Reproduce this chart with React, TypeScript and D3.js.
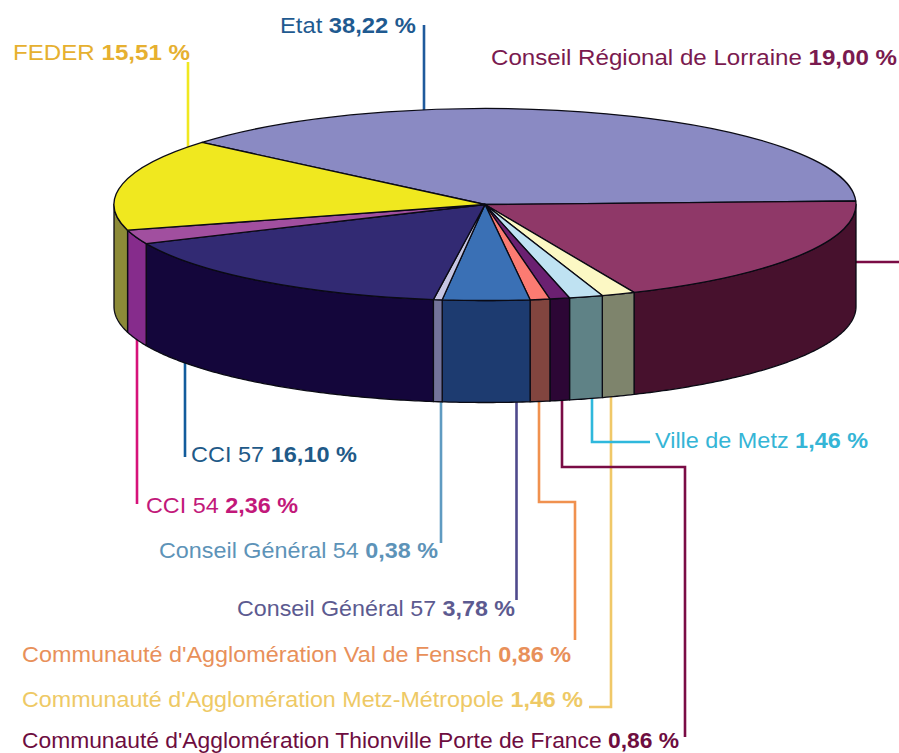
import * as d3 from "d3";

const width = 899;
const height = 753;

// clockwise from the top left edge of the Etat slice
const names = [
  "Etat",
  "Conseil Régional de Lorraine",
  "Communauté d'Agglomération Metz-Métropole",
  "Ville de Metz",
  "Communauté d'Agglomération Thionville Porte de France",
  "Communauté d'Agglomération Val de Fensch",
  "Conseil Général 57",
  "Conseil Général 54",
  "CCI 57",
  "CCI 54",
  "FEDER",
];
const values = [38.22, 19.0, 1.46, 1.46, 0.86, 0.86, 3.78, 0.38, 16.1, 2.36, 15.51];
const topColors = ["#8a8ac3", "#8f3868", "#fcf8c4", "#bfe2f2", "#6b2071", "#fb7b72", "#3a70b5", "#c6c6e2", "#322a73", "#a14f9f", "#f0e81f"];
const sideColors = ["#55557a", "#47112d", "#7e846c", "#5f8286", "#2c0635", "#82453f", "#1d3b70", "#73739a", "#14063b", "#862c8c", "#8c8a38"];
const textColors = ["#1f5a90", "#7a1a4f", "#eec965", "#35b5d6", "#6d0d3f", "#e8905a", "#5c5a90", "#5d93b8", "#1f5a88", "#c2187a", "#e6b030"];
const lineColors = ["#1f5a9c", "#7a0c45", "#f0c868", "#2fb8dc", "#7a0c45", "#f0914f", "#4f4a8c", "#5f9bc1", "#125c9c", "#d6127a", "#f0e820"];

// label anchors, widths and leader routes, same order as names
const labelPos: [number, number][] = [
  [280, 33], [491, 65], [22, 707], [655, 448], [22, 747.5], [22, 662],
  [237, 616], [159, 558], [191, 462], [146, 513], [13, 59.5],
];
const labelWidth = [136, 406, 561, 213, 657, 549, 278, 279, 166, 152, 177];
const leaders: [number, number][][] = [
  [[424, 25], [424, 120]],
  [[850, 262], [899, 262]],
  [[611, 390], [611, 707], [589, 707]],
  [[592, 390], [592, 442], [650, 442]],
  [[562, 395], [562, 467], [685, 467], [685, 737]],
  [[539, 395], [539, 502], [575, 502], [575, 640]],
  [[516.5, 395], [516.5, 600]],
  [[441, 395], [441, 543]],
  [[185, 350], [185, 457]],
  [[137, 335], [137, 504]],
  [[188, 62], [188, 160]],
];

const cx = 485;
const cy = 204.5;
const rx = 371;
const ry = 96;
const depth = 102;
const startDeg = -49.7;

const pie = d3
  .pie<number>()
  .sort(null)
  .startAngle((startDeg * Math.PI) / 180)
  .endAngle(((startDeg + 360) * Math.PI) / 180);

const arc = d3.arc<d3.PieArcDatum<number>>().innerRadius(0).outerRadius(rx);

const xAt = (a: number) => cx + rx * Math.sin(a);
const yAt = (a: number) => cy - ry * Math.cos(a);

// front wall of a slice, only the part on the lower half of the ellipse
function wallPath(a0: number, a1: number) {
  const from = Math.max(a0, Math.PI / 2);
  const to = Math.min(a1, (3 * Math.PI) / 2);
  if (to <= from) return null;
  const angles = [...d3.range(from, to, 0.01), to];
  const pts: [number, number][] = [
    ...angles.map((a): [number, number] => [xAt(a), yAt(a)]),
    ...angles.slice().reverse().map((a): [number, number] => [xAt(a), yAt(a) + depth]),
  ];
  return d3.line()(pts) + "Z";
}

const fmt = (v: number) => v.toFixed(2).replace(".", ",") + " %";

export default function App() {
  const slices = pie(values);
  const leaderLine = d3.line();

  return (
    <svg
      width={width}
      height={height}
      style={{ position: "absolute", left: 0, top: 0, background: "#fff" }}
      fontFamily="'Liberation Sans', Arial, sans-serif"
    >
      {leaders.map((pts, i) => (
        <path key={i} d={leaderLine(pts) ?? ""} fill="none" stroke={lineColors[i]} strokeWidth={2.6} />
      ))}

      <g stroke="#0a0a14" strokeWidth={1.3} strokeLinejoin="round">
        {slices.map((s, i) => {
          const d = wallPath(s.startAngle, s.endAngle);
          return d ? <path key={i} d={d} fill={sideColors[i]} /> : null;
        })}
        <g transform={`translate(${cx},${cy}) scale(1,${ry / rx})`}>
          {slices.map((s, i) => (
            <path key={i} d={arc(s) ?? ""} fill={topColors[i]} vectorEffect="non-scaling-stroke" />
          ))}
        </g>
      </g>

      {names.map((name, i) => (
        <text
          key={i}
          x={labelPos[i][0]}
          y={labelPos[i][1]}
          fontSize={22}
          fill={textColors[i]}
          textLength={labelWidth[i]}
          lengthAdjust="spacingAndGlyphs"
        >
          {name} <tspan fontWeight="bold">{fmt(values[i])}</tspan>
        </text>
      ))}
    </svg>
  );
}
